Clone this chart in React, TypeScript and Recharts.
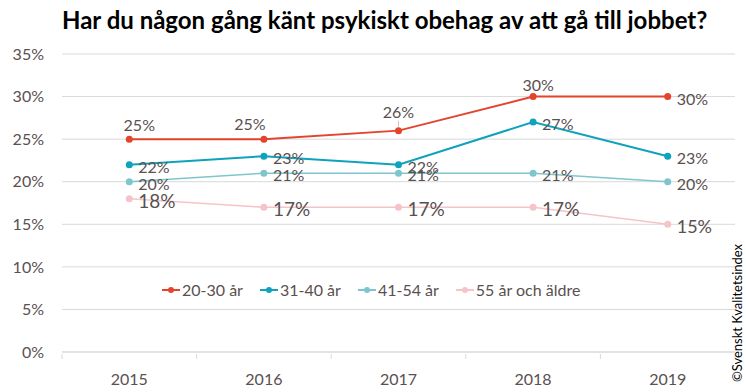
import React from 'react';
import { CartesianGrid, LabelList, Line, LineChart, XAxis, YAxis } from 'recharts';

const years = [2015, 2016, 2017, 2018, 2019];
const age2030 = [25, 25, 26, 30, 30];
const age3140 = [22, 23, 22, 27, 23];
const age4154 = [20, 21, 21, 21, 20];
const age55 = [18, 17, 17, 17, 15];
const yTicks = [0, 5, 10, 15, 20, 25, 30, 35];

const data = years.map((year, i) => ({
  year,
  a: age2030[i],
  b: age3140[i],
  c: age4154[i],
  d: age55[i],
}));

// half-year ticks draw the separators between the categories
const xTicks = [years[0] - 0.5, ...years.flatMap((y) => [y, y + 0.5])];

const FONT = 'Lato, "Open Sans", sans-serif';
const TEXT = '#595050';

const series = [
  { key: 'a', name: '20-30 år', color: '#E4432D', width: 2, r: 3.5, size: 16 },
  { key: 'b', name: '31-40 år', color: '#0EA2BC', width: 2, r: 3.5, size: 16 },
  { key: 'c', name: '41-54 år', color: '#7EC6CB', width: 1.5, r: 3.5, size: 16 },
  { key: 'd', name: '55 år och äldre', color: '#F6C4C8', width: 1.5, r: 3.5, size: 19 },
];

// label placement for the top series (above the points)
const redDx = [10, -14, 0, 5];
const redDy = [-8, -9, -13, -6];

const makeLabel = (key: string, size: number) => (props: any) => {
  const { x, y, value, index } = props;
  const last = index === years.length - 1;
  if (key === 'a' && !last) {
    return (
      <g>
        {index === 2 && <line x1={x} x2={x} y1={y - 10} y2={y - 4} stroke="#bbb" strokeWidth={0.8} />}
        <text x={x + redDx[index]} y={y + redDy[index]} textAnchor="middle" fontSize={size} fill={TEXT} fontFamily={FONT}>
          {`${value}%`}
        </text>
      </g>
    );
  }
  const dy = key === 'd' ? 9 : 8;
  return (
    <text x={x + 9} y={y + dy} textAnchor="start" fontSize={last && key === 'd' ? 18 : size} fill={TEXT} fontFamily={FONT}>
      {`${value}%`}
    </text>
  );
};

const XTick = (props: any) => {
  const { x, y, payload } = props;
  if (!Number.isInteger(payload.value)) {
    return <line x1={x} x2={x} y1={y} y2={y + 5} stroke="#D9D9D9" />;
  }
  return (
    <text x={x} y={y + 31} textAnchor="middle" fontSize={16} fill={TEXT} fontFamily={FONT}>
      {payload.value}
    </text>
  );
};

export default function App() {
  return (
    <div style={{ position: 'fixed', left: 0, top: 0, width: 746, height: 392, background: '#fff' }}>
      <div
        style={{
          position: 'absolute',
          left: 62,
          top: 5,
          fontFamily: FONT,
          fontWeight: 700,
          fontSize: 24,
          color: '#000',
          whiteSpace: 'nowrap',
        }}
      >
        Har du någon gång känt psykiskt obehag av att gå till jobbet?
      </div>
      <LineChart width={746} height={392} data={data} margin={{ top: 54, right: 11, bottom: 0, left: 12 }}>
        <CartesianGrid vertical={false} stroke="#D9D9D9" />
        <XAxis
          dataKey="year"
          type="number"
          domain={[years[0] - 0.5, years[years.length - 1] + 0.5]}
          ticks={xTicks}
          interval={0}
          tick={<XTick />}
          tickLine={false}
          tickSize={0}
          axisLine={{ stroke: '#D9D9D9' }}
          height={40}
        />
        <YAxis
          domain={[0, 35]}
          ticks={yTicks}
          tickFormatter={(v) => `${v}%`}
          axisLine={false}
          tickLine={false}
          tickSize={0}
          tickMargin={18}
          width={50}
          tick={{ fontSize: 16, fill: TEXT, fontFamily: FONT }}
        />
        {series.map((s) => (
          <Line
            key={s.key}
            dataKey={s.key}
            name={s.name}
            stroke={s.color}
            strokeWidth={s.width}
            dot={{ r: s.r, fill: s.color, stroke: s.color, strokeWidth: 0 }}
            activeDot={false}
            isAnimationActive={false}
          >
            <LabelList dataKey={s.key} content={makeLabel(s.key, s.size)} />
          </Line>
        ))}
      </LineChart>
      <div
        style={{
          position: 'absolute',
          left: 162,
          top: 280,
          display: 'flex',
          gap: 17,
          fontFamily: FONT,
          fontSize: 16,
          color: TEXT,
        }}
      >
        {series.map((s) => (
          <div key={s.key} style={{ display: 'flex', alignItems: 'center' }}>
            <svg width={18} height={10} style={{ marginRight: 2 }}>
              <line x1={0} x2={18} y1={5} y2={5} stroke={s.color} strokeWidth={2} />
              <circle cx={9} cy={5} r={3} fill={s.color} />
            </svg>
            <span>{s.name}</span>
          </div>
        ))}
      </div>
      <div
        style={{
          position: 'absolute',
          left: 737,
          top: 313,
          transform: 'translate(-50%, -50%) rotate(-90deg)',
          fontFamily: FONT,
          fontSize: 13,
          color: '#000',
          whiteSpace: 'nowrap',
        }}
      >
        ©Svenskt Kvalitetsindex
      </div>
    </div>
  );
}
